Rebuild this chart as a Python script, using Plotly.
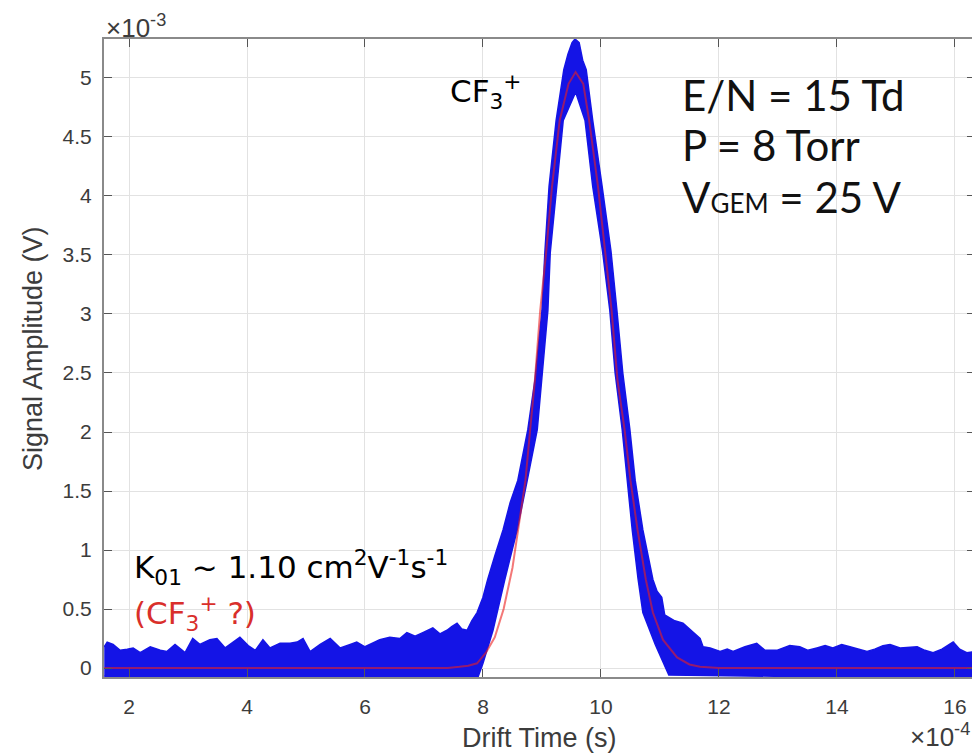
import plotly.graph_objects as go

# ---- data (x in units of 1e-4 s, y in units of 1e-3 V) ----
# upper envelope of the blue measured points (left -> right)
upper_x = [1.58, 1.63, 1.73, 1.85, 1.97, 2.07, 2.19, 2.36, 2.53, 2.64, 2.78, 2.95, 3.08, 3.20,
           3.37, 3.49, 3.63, 3.76, 3.88, 4.02, 4.14, 4.27, 4.39, 4.56, 4.73, 4.85, 4.95, 5.07,
           5.24, 5.41, 5.58, 5.75, 5.86, 6.00, 6.14, 6.25, 6.42, 6.59, 6.71, 6.85, 6.98, 7.15,
           7.27, 7.39, 7.47, 7.56, 7.64, 7.73, 7.81, 7.90, 8.00, 8.08, 8.20, 8.34, 8.46, 8.59,
           8.76, 8.88, 9.00, 9.05, 9.12, 9.24, 9.37, 9.44, 9.51, 9.56, 9.63, 9.69, 9.75, 9.86,
           10.02, 10.17, 10.27, 10.37, 10.49, 10.58, 10.71, 10.88, 10.95, 11.03, 11.08, 11.25,
           11.39, 11.56, 11.68, 11.73, 11.85, 12.02, 12.14, 12.24, 12.44, 12.64, 12.78, 12.98,
           13.20, 13.37, 13.51, 13.66, 13.80, 13.93, 14.08, 14.22, 14.51, 14.64, 14.78, 14.90,
           15.07, 15.36, 15.49, 15.63, 15.78, 15.97, 16.08, 16.20, 16.34]
upper_y = [0.18, 0.22, 0.20, 0.15, 0.16, 0.17, 0.13, 0.18, 0.15, 0.14, 0.20, 0.13, 0.25, 0.20,
           0.24, 0.25, 0.17, 0.22, 0.26, 0.19, 0.15, 0.24, 0.17, 0.21, 0.21, 0.22, 0.25, 0.14,
           0.20, 0.25, 0.17, 0.20, 0.22, 0.18, 0.21, 0.24, 0.26, 0.25, 0.30, 0.27, 0.30, 0.34,
           0.29, 0.32, 0.35, 0.38, 0.33, 0.32, 0.40, 0.47, 0.60, 0.75, 0.95, 1.17, 1.40, 1.59,
           2.02, 2.44, 3.03, 3.53, 4.08, 4.64, 5.07, 5.20, 5.30, 5.33, 5.30, 5.15, 5.07, 4.64,
           4.08, 3.53, 3.03, 2.50, 2.02, 1.59, 1.17, 0.75, 0.65, 0.60, 0.45, 0.40,
           0.38, 0.30, 0.25, 0.18, 0.17, 0.14, 0.16, 0.14, 0.18, 0.21, 0.15, 0.15,
           0.19, 0.18, 0.15, 0.17, 0.19, 0.17, 0.20, 0.18, 0.14, 0.16, 0.19, 0.20,
           0.17, 0.18, 0.15, 0.13, 0.16, 0.22, 0.16, 0.13, 0.14]

# lower envelope of the blue measured points (left -> right)
lower_x = [1.58, 3.0, 5.0, 7.0, 7.92, 8.00, 8.17, 8.37, 8.58, 8.75, 8.92, 9.00, 9.10, 9.14,
           9.25, 9.36, 9.57, 9.73, 9.86, 10.03, 10.15, 10.24, 10.36, 10.44, 10.53, 10.63,
           10.71, 10.92, 11.15, 13.0, 15.0, 16.34]
lower_y = [-0.07, -0.07, -0.07, -0.07, -0.07, 0.04, 0.32, 0.75, 1.17, 1.59, 2.02, 2.50, 3.03,
           3.52, 4.08, 4.64, 4.88, 4.64, 4.08, 3.52, 3.03, 2.50, 2.02, 1.59, 1.17, 0.75,
           0.47, 0.20, -0.06, -0.07, -0.07, -0.07]

# red fitted curve
fit_x = [1.58, 7.4, 7.6, 7.75, 7.9, 8.05, 8.2, 8.35, 8.5, 8.6, 8.72, 8.8, 8.88, 8.97, 9.07,
         9.17, 9.3, 9.45, 9.57, 9.7, 9.8, 9.95, 10.07, 10.18, 10.28, 10.4, 10.5, 10.62, 10.76,
         10.88, 11.05, 11.29, 11.5, 11.68, 12.0, 16.34]
fit_y = [0.0, 0.0, 0.01, 0.02, 0.04, 0.13, 0.26, 0.5, 0.85, 1.17, 1.59, 2.02, 2.44, 3.03, 3.52,
         4.08, 4.64, 4.95, 5.05, 4.95, 4.64, 4.08, 3.52, 3.03, 2.44, 2.02, 1.59, 1.17, 0.75,
         0.47, 0.24, 0.09, 0.03, 0.01, 0.0, 0.0]

x_ticks = [2, 4, 6, 8, 10, 12, 14, 16]
y_ticks = [0, 0.5, 1, 1.5, 2, 2.5, 3, 3.5, 4, 4.5, 5]
y_ticktext = ["0", "0.5", "1", "1.5", "2", "2.5", "3", "3.5", "4", "4.5", "5"]

# ---- figure ----
fig = go.Figure()

band_x = upper_x + lower_x[::-1]
band_y = upper_y + lower_y[::-1]
fig.add_trace(go.Scatter(x=band_x, y=band_y, mode="lines", fill="toself",
                         fillcolor="#1414e6", line=dict(color="#1414e6", width=1.5),
                         hoverinfo="skip"))
fig.add_trace(go.Scatter(x=fit_x, y=fit_y, mode="lines",
                         line=dict(color="rgba(235,30,30,0.6)", width=2)))

tick_font = dict(family="Liberation Sans, Arial, sans-serif", size=21, color="#3c3c3c")
exp_font = dict(family="Liberation Sans, Arial, sans-serif", size=26, color="#3c3c3c")
axis_common = dict(ticks="inside", ticklen=8, tickwidth=1, tickcolor="#555555",
                   showline=True, linecolor="#8a8a8a", linewidth=2, mirror="ticks",
                   showgrid=True, gridcolor="#e2e2e2", gridwidth=1, zeroline=False,
                   tickfont=tick_font, automargin=False)

fig.update_xaxes(range=[1.576, 16.34], tickmode="array", tickvals=x_ticks,
                 ticklabelstandoff=10, **axis_common)
fig.update_yaxes(range=[-0.076, 5.33], tickmode="array", tickvals=y_ticks,
                 ticktext=y_ticktext, ticklabelstandoff=6, **axis_common)

label_font = dict(family="Liberation Sans, Arial, sans-serif", size=27, color="#3c3c3c")
comic = "DejaVu Sans, Noto Sans, sans-serif"
gothic = "Lato, DejaVu Sans, sans-serif"

annotations = [
    dict(text="Drift Time (s)", x=0.5, y=-0.0956, xref="paper", yref="paper",
         xanchor="center", yanchor="middle", showarrow=False, font=label_font),
    dict(text="Signal Amplitude (V)", x=-0.0815, y=0.514, xref="paper", yref="paper",
         xanchor="center", yanchor="middle", textangle=-90, showarrow=False, font=label_font),
    dict(text="×10<sup>-3</sup>", x=0.0, y=1.0, xref="paper", yref="paper",
         xanchor="left", yanchor="bottom", yshift=-6, showarrow=False, font=exp_font),
    dict(text="×10<sup>-4</sup>", x=0.997, y=-0.091, xref="paper", yref="paper",
         xanchor="right", yanchor="middle", showarrow=False, font=exp_font),
    dict(text="CF<sub>3</sub><sup>+</sup>", x=0.395, y=0.918, xref="paper", yref="paper",
         xanchor="left", yanchor="middle", showarrow=False,
         font=dict(family=comic, size=31, color="black")),
    dict(text="E/N = 15 Td", x=0.661, y=0.912, xref="paper", yref="paper",
         xanchor="left", yanchor="middle", showarrow=False,
         font=dict(family=gothic, size=42, color="#111111")),
    dict(text="P = 8 Torr", x=0.661, y=0.834, xref="paper", yref="paper",
         xanchor="left", yanchor="middle", showarrow=False,
         font=dict(family=gothic, size=42, color="#111111")),
    dict(text="V<span style='font-size:26px'>GEM</span> = 25 V", x=0.661, y=0.752,
         xref="paper", yref="paper", xanchor="left", yanchor="middle", showarrow=False,
         font=dict(family=gothic, size=42, color="#111111")),
    dict(text="K<sub>01</sub> ~ 1.10 cm<sup>2</sup>V<sup>-1</sup>s<sup>-1</sup>",
         x=0.032, y=0.171, xref="paper", yref="paper", xanchor="left", yanchor="middle",
         showarrow=False, font=dict(family=comic, size=31, color="black")),
    dict(text="(CF<sub>3</sub><sup>+</sup> ?)", x=0.032, y=0.100, xref="paper", yref="paper",
         xanchor="left", yanchor="middle", showarrow=False,
         font=dict(family=comic, size=31, color="#d92f2b")),
]

# the page body adds an 8 px offset, so the figure is 8 px smaller and margins shifted
fig.update_layout(width=972, height=745, margin=dict(l=96, r=5, t=31, b=76),
                  paper_bgcolor="white", plot_bgcolor="white", showlegend=False,
                  annotations=annotations)

fig.write_html("out.html")
